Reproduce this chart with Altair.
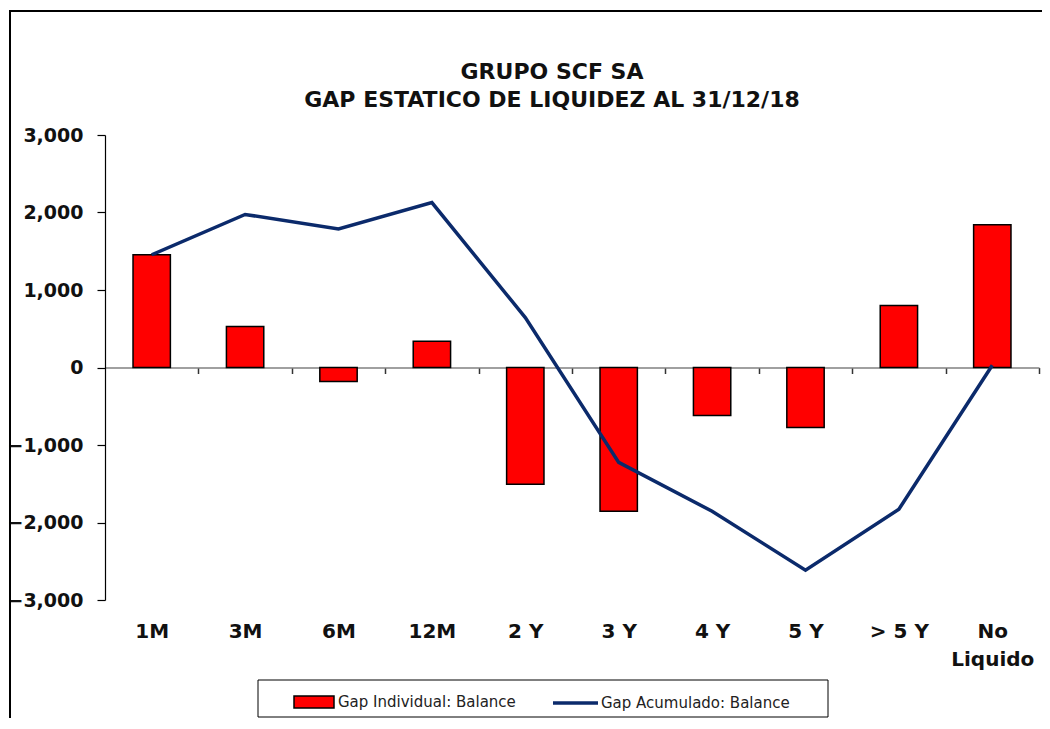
import altair as alt
import pandas as pd

categories = ["1M", "3M", "6M", "12M", "2 Y", "3 Y", "4 Y", "5 Y", "> 5 Y", "No Liquido"]
gap_individual = [1455, 530, -180, 340, -1507, -1855, -618, -773, 799, 1842]
gap_acumulado = [1455, 1975, 1788, 2128, 644, -1224, -1855, -2615, -1829, 30]
y_ticks = [-3000, -2000, -1000, 0, 1000, 2000, 3000]
title_lines = ["GRUPO SCF SA", "GAP ESTATICO DE LIQUIDEZ AL 31/12/18"]
series_names = ["Gap Individual: Balance", "Gap Acumulado: Balance"]

df = pd.DataFrame({
    "cat": categories,
    "ind": gap_individual,
    "acu": gap_acumulado,
    "s1": series_names[0],
    "s2": series_names[1],
})

W, H = 934, 465
STEP = W / 10.0
BOLD = "DejaVu Sans"

x_scale = alt.Scale(paddingInner=0.6, paddingOuter=0.3)
y_scale = alt.Scale(domain=[-3000, 3000], nice=False, zero=False)

x_axis = alt.Axis(
    title=None, orient="bottom", offset=-H / 2,
    domainColor="#808080", domainWidth=1.5,
    tickColor="#333333", tickSize=6, tickWidth=1.5,
    tickOffset=STEP / 2, labelOffset=-STEP / 2,
    labelAngle=0, labelFont=BOLD, labelFontWeight="bold", labelFontSize=20,
    labelColor="#111111", labelPadding=248, labelLineHeight=28,
    labelBaseline="top",
    labelExpr="datum.label == 'No Liquido' ? ['No', 'Liquido'] : datum.label",
)
y_axis = alt.Axis(
    title=None, values=y_ticks, format=",.0f", grid=False,
    domainColor="#000000", domainWidth=1.2,
    tickColor="#000000", tickSize=8, tickWidth=1.2,
    labelFont=BOLD, labelFontWeight="bold", labelFontSize=19,
    labelColor="#111111", labelPadding=14,
)

one = pd.DataFrame({"k": [0]})

frame = alt.Chart(one).mark_rect(
    fill="white", fillOpacity=0, stroke="black", strokeWidth=2
).encode(
    x=alt.value(-95), x2=alt.value(2000), y=alt.value(-124), y2=alt.value(2000)
)

title1 = alt.Chart(one).mark_text(
    text=title_lines[0], font=BOLD, fontWeight="bold", fontSize=22,
    color="#111111", align="center", baseline="middle",
).encode(x=alt.value(447), y=alt.value(-63))

title2 = alt.Chart(one).mark_text(
    text=title_lines[1], font=BOLD, fontWeight="bold", fontSize=22,
    color="#111111", align="center", baseline="middle",
).encode(x=alt.value(447), y=alt.value(-35))

legend_box = alt.Chart(one).mark_rect(
    fill="white", stroke="black", strokeWidth=1
).encode(
    x=alt.value(153), x2=alt.value(723), y=alt.value(545), y2=alt.value(582)
)

legend_common = dict(
    title=None, orient="none",
    labelFont="DejaVu Sans", labelFontSize=15, labelColor="#222222",
    padding=0, labelLimit=400,
)

bars = alt.Chart(df).mark_bar(stroke="black", strokeWidth=1.5).encode(
    x=alt.X("cat:N", sort=categories, scale=x_scale, axis=x_axis),
    y=alt.Y("ind:Q", scale=y_scale, axis=y_axis),
    fill=alt.Fill(
        "s1:N",
        scale=alt.Scale(domain=[series_names[0]], range=["#ff0000"]),
        legend=alt.Legend(
            legendX=188, legendY=546, labelOffset=3,
            symbolType="M-1,-0.3H1V0.3H-1Z", symbolSize=1600,
            symbolStrokeColor="black", symbolStrokeWidth=1.5,
            **legend_common,
        ),
    ),
)

line = alt.Chart(df).mark_line(strokeWidth=3.5).encode(
    x=alt.X("cat:N", sort=categories, scale=x_scale, axis=x_axis),
    y=alt.Y("acu:Q", scale=y_scale, axis=y_axis),
    stroke=alt.Stroke(
        "s2:N",
        scale=alt.Scale(domain=[series_names[1]], range=["#0b2a6b"]),
        legend=alt.Legend(
            legendX=446, legendY=543.5, labelOffset=1,
            symbolType="stroke", symbolSize=2025, symbolStrokeWidth=3.5,
            **legend_common,
        ),
    ),
)

chart = alt.layer(frame, title1, title2, legend_box, bars, line).properties(
    width=W, height=H,
    autosize=alt.AutoSizeParams(type="none"),
    padding={"left": 97, "top": 127, "right": 3, "bottom": 118},
    background="white",
).configure_view(stroke=None)

chart.save("out.html", embed_options={"renderer": "svg", "actions": False})
